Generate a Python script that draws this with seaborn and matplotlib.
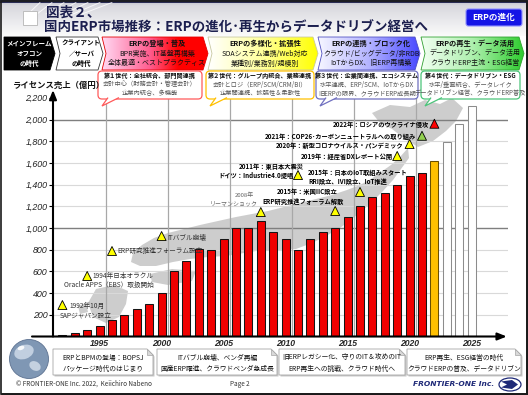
import numpy as np
import pandas as pd
import matplotlib
matplotlib.use("Agg")
import matplotlib.pyplot as plt
import seaborn as sns
from matplotlib.patches import Polygon, FancyBboxPatch, Rectangle, Circle, Ellipse
from matplotlib.colors import LinearSegmentedColormap

# ---------------- data ----------------
years = list(range(1992, 2026))
sales = [10, 30, 60, 100, 150, 200, 250, 300, 400, 600, 700, 810, 800, 900,
         1000, 1000, 1065, 960, 900, 800, 900, 960, 1000, 1100, 1200, 1290,
         1320, 1400, 1480, 1510, 1620, 1790, 1960, 2125]
bar_kind = ["実績"] * 30 + ["見込"] + ["予測"] * 3

ytick_values = [200, 400, 600, 800, 1000, 1200, 1400, 1600, 1800, 2000, 2200]
ytick_labels = ["200", "400", "600", "800", "1,000", "1,200", "1,400",
                "1,600", "1,800", "2,000", "2,200"]
xtick_years = [1995, 2000, 2005, 2010, 2015, 2020, 2025]
xtick_labels = ["1995", "2000", "2005", "2010", "2015", "2020", "2025"]
y_label = "ライセンス売上（億円）"

event_years = [1992, 1994, 1996, 2000, 2008, 2011, 2014, 2016, 2019, 2020, 2021, 2022]
event_levels = [290, 558, 788, 926, 1147, 1488, 1157, 1332, 1664, 1774, 1850, 1961]
event_kind = ["注目"] * 10 + ["環境", "戦争"]
event_texts = [
    ["1992年10月", "SAPジャパン設立"],
    ["1994年日本オラクル", "Oracle APPS（EBS）取扱開始"],
    ["ERP研究推進フォーラム設立"],
    ["ITバブル崩壊"],
    ["2008年", "リーマンショック"],
    ["2011年：東日本大震災", "ドイツ：Industrie4.0提唱"],
    ["2015年：米国IIC設立", "ERP研究推進フォーラム解散"],
    ["2015年：日本のIoT取組みスタート", "RRI設立、IVI設立、IoT推進"],
    ["2019年：経産省DXレポート公開"],
    ["2020年：新型コロナウイルス・パンデミック"],
    ["2021年：COP26･カーボンニュートラルへの取り組み"],
    ["2022年：ロシアのウクライナ侵攻"],
]

title_1 = "図表２、"
title_2 = "国内ERP市場推移：ERPの進化･再生からデータドリブン経営へ"
badge_text = "ERPの進化"
era_texts = [
    ["メインフレーム", "オフコン", "の時代"],
    ["クライアント", "／サーバ", "の時代"],
    ["ERPの登場・普及", "BPR実施、IT基盤再構築", "全体最適・ベストプラクティス"],
    ["ERPの多様化・拡張性", "SOAシステム連携/Web対応", "業種別/業務別/規模別"],
    ["ERPの連携・ブロック化", "クラウド/ビッグデータ/非RDB", "IoTからDX、旧ERP再構築"],
    ["ERPの再生・データ活用", "データドリブン、データ活用", "クラウドERP主流・ESG経営"],
]
gen_texts = [
    ["第１世代：全社統合、部門間連携", "会計中心（財務会計・管理会計）", "企業内統合、多機能"],
    ["第２世代：グループ内統合、業務連携", "会計とロジ（ERP/SCM/CRM/BI）", "企業間連携、拡張性＆柔軟性"],
    ["第３世代：企業間連携、エコシステム", "水平連携、ERP/SCM、IoTからDX", "旧ERPの限界、クラウドERP成長期"],
    ["第４世代：データドリブン・ESG", "水平/垂直統合、データレイク", "データドリブン経営、クラウドERP普及"],
]
period_texts = [
    ["ERPとBPMの登場：BOPSJ", "パッケージ時代のはじまり"],
    ["ITバブル崩壊、ベンダ再編", "国産ERP躍進、クラウドベンダ急成長"],
    ["旧ERPレガシー化、守りのIT＆攻めのIT", "ERP再生への挑戦、クラウド時代へ"],
    ["ERP再生、ESG経営の時代", "クラウドERPの普及、データドリブン"],
]
footer_left = "© FRONTIER-ONE Inc. 2022,  Keiichiro Nabeno"
footer_page = "Page 2"
footer_brand = "FRONTIER-ONE Inc."

# ---------------- style ----------------
sns.set_theme(style="white")
plt.rcParams["font.family"] = ["Noto Sans CJK JP", "DejaVu Sans"]

W, H = 528, 395
fig = plt.figure(figsize=(W / 100, H / 100), dpi=100)
fig.patch.set_facecolor("white")


def pix_axes(z):
    a = fig.add_axes([0, 0, 1, 1])
    a.set_xlim(0, W)
    a.set_ylim(H, 0)
    a.axis("off")
    a.set_zorder(z)
    return a


bg = pix_axes(0)

# chart axes (pixel frame)
PX0, PX1, PY0, PY1 = 53, 508, 72, 336.5
X_PER_YEAR, X_1992 = 12.4, 62.4
Y_PER_UNIT = 0.1085
ax = fig.add_axes([PX0 / W, 1 - PY1 / H, (PX1 - PX0) / W, (PY1 - PY0) / H])
ax.set_zorder(1)
ax.patch.set_alpha(0)
ov = pix_axes(2)

xlo = 1992 + (PX0 - X_1992) / X_PER_YEAR
xhi = 1992 + (PX1 - X_1992) / X_PER_YEAR
ytop = (PY1 - PY0) / Y_PER_UNIT

# ---- background map silhouette (decorative) ----
map_col = "#cdcdcd"
shapes = [
    [(372, 113), (390, 105), (410, 107), (425, 100), (440, 104), (452, 98), (463, 108),
     (456, 121), (446, 131), (433, 141), (418, 147), (405, 139), (392, 129), (380, 123)],
    [(408, 148), (400, 157), (391, 165), (381, 172), (371, 179), (360, 185), (347, 190),
     (332, 195), (316, 199), (300, 203), (284, 207), (268, 211), (252, 214), (236, 217),
     (218, 221), (200, 225), (184, 229), (168, 233), (154, 238), (142, 245), (133, 253),
     (131, 262), (140, 266), (156, 266), (173, 262), (190, 259), (208, 257), (226, 256),
     (244, 253), (262, 250), (280, 250), (296, 249), (312, 243), (326, 236), (340, 228),
     (352, 219), (363, 210), (373, 201), (383, 191), (393, 180), (401, 169), (409, 158)],
    [(150, 274), (172, 269), (196, 271), (192, 281), (168, 285), (152, 282)],
    [(96, 289), (114, 285), (128, 291), (126, 304), (119, 317), (106, 323), (93, 317), (88, 303)],
    [(78, 306), (86, 303), (88, 312), (80, 314)],
]
for s in shapes:
    bg.add_patch(Polygon(s, closed=True, facecolor=map_col, edgecolor="none"))

# ---- grid ----
for v in ytick_values:
    if v <= 2000:
        major = v in (1000, 2000)
        ax.axhline(v, color="#7f7f7f" if major else "#d9d9d9",
                   lw=1.0 if major else 0.8, zorder=0.5)
for yv in range(1995, 2021, 5):
    ax.axvline(yv + 0.5, color="#a8a8a8", lw=0.9, zorder=0.6)

# ---- bars ----
df = pd.DataFrame({"year": years, "sales": sales, "kind": bar_kind})
bar_fill = {"実績": "#f00000", "見込": "#ffc000", "予測": "#ffffff"}
bar_edge = {"実績": "#151515", "見込": "#6b5000", "予測": "#8c8c8c"}
for k in ["実績", "見込", "予測"]:
    sub = df[df["kind"] == k]
    sns.barplot(data=sub, x="year", y="sales", native_scale=True, width=0.66,
                color=bar_fill[k], edgecolor=bar_edge[k], linewidth=0.75,
                saturation=1, errorbar=None, ax=ax, zorder=3)

# ---- event markers ----
ev_df = pd.DataFrame({"year": event_years, "level": event_levels, "kind": event_kind})
sns.scatterplot(data=ev_df, x="year", y="level", hue="kind",
                palette={"注目": "#ffff00", "環境": "#92d050", "戦争": "#ff0000"},
                marker="^", s=42, edgecolor="black", linewidth=0.6,
                legend=False, ax=ax, zorder=6)

# text layout for events: (dx px, dy px downward, ha)
ev_layout = [
    [(7, 0.5, "left"), (-3, 10, "left")],
    [(5, 0, "left"), (-23, 9, "left")],
    [(5, -0.5, "left")],
    [(6, 0.5, "left")],
    [(-16, -17, "center"), (-27, -7.5, "center")],
    [(6, -9, "right"), (-4, 0, "right")],
    [(-28, -19, "center"), (-32, -9.5, "center")],
    [(-52, -19, "left"), (-52, -10, "left")],
    [(-4, 0.5, "right")],
    [(-6, 1.5, "right")],
    [(-6, 1, "right")],
    [(-5, 0.5, "right")],
]
ev_style = ["plain"] * 4 + ["gray"] + ["bold"] * 7
for yr, lv, lines, lay, st in zip(event_years, event_levels, event_texts, ev_layout, ev_style):
    for txt, (dx, dy, ha) in zip(lines, lay):
        kw = dict(fontsize=4.8, color="#333333", fontweight="normal")
        if st == "gray":
            kw = dict(fontsize=4.3, color="#666666", fontweight="normal")
        elif st == "bold":
            kw = dict(fontsize=4.5, color="black", fontweight="bold")
        ax.annotate(txt, xy=(yr, lv), xytext=(dx, -dy), textcoords="offset pixels",
                    ha=ha, va="center", zorder=7, annotation_clip=False, **kw)

# ---- axes ----
ax.set_xlim(xlo, xhi)
ax.set_ylim(0, ytop)
for sp in ax.spines.values():
    sp.set_visible(False)
ax.set_xlabel("")
ax.set_ylabel("")
ax.set_yticks(ytick_values)
ax.set_yticklabels(ytick_labels)
ax.set_xticks(xtick_years)
ax.set_xticklabels(xtick_labels)
ax.tick_params(axis="y", direction="out", length=3, width=0.8, pad=1, labelsize=6.4,
               left=True, colors="black")
ax.tick_params(axis="x", length=0, pad=1.5, labelsize=6.2)
for t in ax.get_yticklabels():
    t.set_fontstyle("italic")
    t.set_family(["Liberation Sans", "DejaVu Sans"])
    t.set_color("#222222")
for t in ax.get_xticklabels():
    t.set_fontstyle("italic")
    t.set_fontweight("bold")
    t.set_family(["Liberation Sans", "DejaVu Sans"])
ax.grid(False)

arrow = dict(arrowstyle="-|>,head_width=0.18,head_length=0.45", color="black",
             lw=1.5, shrinkA=0, shrinkB=0)
ax.annotate("", xy=(xlo, 2272), xytext=(xlo, 0), arrowprops=arrow, annotation_clip=False, zorder=8)
ax.annotate("", xy=(xhi - 0.1, 0), xytext=(xlo - 21 / X_PER_YEAR, 0), arrowprops=arrow,
            annotation_clip=False, zorder=8)

# ---------------- overlay: header, callouts, footer ----------------
def grad_poly(a, pts, stops, edge, lw=0.6, z=2, vertical=False):
    poly = Polygon(pts, closed=True, facecolor="none", edgecolor=edge, lw=lw, zorder=z + 1)
    a.add_patch(poly)
    xs = [p[0] for p in pts]
    ys = [p[1] for p in pts]
    cmap = LinearSegmentedColormap.from_list("g", stops)
    g = np.linspace(0, 1, 256)
    arr = g.reshape(-1, 1) if vertical else g.reshape(1, -1)
    im = a.imshow(arr, cmap=cmap, extent=[min(xs), max(xs), max(ys), min(ys)],
                  aspect="auto", zorder=z, interpolation="bilinear")
    im.set_clip_path(poly)


# header band
grad_poly(ov, [(0, 0), (W, 0), (W, 36), (0, 36)],
          [(0, "#b9bac6"), (0.15, "#d8d8de"), (1, "#fbfbfb")], "none", lw=0, z=1, vertical=True)
ov.add_patch(Rectangle((0, 0), W, 2.5, facecolor="#2a2d55", edgecolor="none", zorder=2))
for i in range(7):
    ov.plot([28 + i * 9, 40 + i * 12], [14, 2.5], color="white", lw=0.7, alpha=0.8, zorder=2)
ov.add_patch(Rectangle((23, 11), 14, 14, facecolor="white", edgecolor="#b5b5b5", lw=0.6, zorder=3))
ov.text(46, 12.5, title_1, fontsize=9.8, fontweight="bold", color="#1c1f4f", va="center", ha="left", zorder=4)
ov.text(44, 27.5, title_2, fontsize=9.7, fontweight="bold", color="#1c1f4f", va="center", ha="left", zorder=4)
ov.add_patch(FancyBboxPatch((466, 9), 56, 17, boxstyle="round,pad=0,rounding_size=2.5",
                            facecolor="#1414e6", edgecolor="#9090ff", lw=0.8, zorder=3))
ov.text(494, 17.5, badge_text, fontsize=6.2, fontweight="bold", color="white", ha="center", va="center", zorder=4)

# chevrons
CY0, CY1 = 37, 70
CM = (CY0 + CY1) / 2
chev = [
    (4, 50, 0, ["#000000", "#000000"], "#000000", "white"),
    (56, 98, 4, ["#ffffff", "#ffffff"], "#333333", "black"),
    (102, 203, 4, [(0, "#ffd9f3"), (0.45, "#ff5d8f"), (0.72, "#ff0000"), (1, "#ff0000")], "#e00000", "#111111"),
    (208, 313, 4, [(0, "#ffffff"), (0.5, "#ffff9a"), (1, "#ffff00")], "#c8c8a0", "#111111"),
    (318, 415, 4, [(0, "#f6f6ff"), (0.5, "#b4b4ff"), (1, "#4848ff")], "#5050c0", "#111111"),
    (421, 519, 4, [(0, "#f2fff2"), (0.5, "#aef0ae"), (1, "#2ecc2e")], "#30a030", "#111111"),
]
for (x0, x1, notch, stops, edge, tcol), lines in zip(chev, era_texts):
    pts = [(x0, CY0), (x1, CY0), (x1 + 5, CM), (x1, CY1), (x0, CY1)]
    if notch:
        pts.append((x0 + notch, CM))
    grad_poly(ov, pts, stops, edge, lw=0.6, z=2)
    cx = (x0 + x1 + 5 + notch) / 2
    small = x0 < 100
    for j, txt in enumerate(lines):
        bold = (j == 0) or small
        fs = 4.7 if small else (5.2 if j == 0 else 5.0)
        ov.text(cx, 43.5 + j * 10, txt, fontsize=fs, ha="center", va="center", color=tcol,
                fontweight="bold" if bold else "normal", zorder=4)

# generation callouts
gens = [(98, 202, "#ff5a5a"), (206, 314, "#ffc000"), (316, 418, "#7070c0"), (421, 520, "#4cc47a")]
for (x0, x1, col), lines in zip(gens, gen_texts):
    ov.add_patch(FancyBboxPatch((x0, 71), x1 - x0, 28, boxstyle="round,pad=0,rounding_size=4",
                                facecolor="white", edgecolor=col, lw=0.9, zorder=3))
    ov.add_patch(Polygon([(x0 + 10, 97.6), (x0 + 4, 106), (x0 + 21, 97.6)], closed=False,
                         facecolor="white", edgecolor=col, lw=0.9, zorder=3.5))
    cx = (x0 + x1) / 2
    ov.text(cx, 75.5, lines[0], fontsize=4.4, fontweight="bold", color="#111111", ha="center", va="center", zorder=4)
    ov.text(cx, 84.5, lines[1], fontsize=4.5, color="#555555", ha="center", va="center", zorder=4)
    ov.text(cx, 93.2, lines[2], fontsize=4.5, color="#555555", ha="center", va="center", zorder=4)

ov.text(13, 85.5, y_label, fontsize=6, fontweight="bold", color="#111111", ha="left", va="center", zorder=4)

# globe icon
ov.add_patch(Circle((29, 359), 19.5, facecolor="#7f97b4", edgecolor="#5d7291", lw=0.6, zorder=3))
ov.add_patch(Ellipse((24, 352), 20, 14, angle=-20, facecolor="#c9d6e6", edgecolor="none", alpha=0.9, zorder=3.2))
ov.add_patch(Ellipse((35, 366), 12, 9, angle=30, facecolor="#d6e0ec", edgecolor="none", alpha=0.8, zorder=3.2))
ov.add_patch(Ellipse((21, 348), 7, 4, angle=-20, facecolor="white", edgecolor="none", alpha=0.9, zorder=3.3))

# period boxes
periods = [(53, 153), (157, 277), (279, 405), (407, 521)]
BY0, BY1 = 349, 375
for (x0, x1), lines in zip(periods, period_texts):
    shp = [(x0, BY0), (x1 - 6, BY0), (x1, BY0 + 6), (x1, BY1), (x0, BY1)]
    ov.add_patch(Polygon([(x + 1.5, y + 1.5) for x, y in shp], closed=True, facecolor="#c8c8c8",
                         edgecolor="none", zorder=2.8))
    ov.add_patch(Polygon(shp, closed=True, facecolor="white", edgecolor="#a6a6a6", lw=0.6, zorder=3))
    ov.add_patch(Polygon([(x1 - 6, BY0), (x1 - 6, BY0 + 6), (x1, BY0 + 6)], closed=True,
                         facecolor="#d9d9d9", edgecolor="#a6a6a6", lw=0.5, zorder=3.1))
    cx = (x0 + x1) / 2
    ov.text(cx, 357.5, lines[0], fontsize=4.9, color="#111111", ha="center", va="center", zorder=4)
    ov.text(cx, 368.5, lines[1], fontsize=4.9, color="#111111", ha="center", va="center", zorder=4)

# footer
ov.text(16, 384, footer_left, fontsize=4.6, color="#333333", ha="left", va="center", zorder=4)
ov.text(230, 384, footer_page, fontsize=4.6, color="#333333", ha="left", va="center", zorder=4)
ov.text(494, 384, footer_brand, fontsize=5.4, fontweight="bold", fontstyle="italic",
        color="#1f2a78", ha="right", va="center", family=["DejaVu Sans"], zorder=4)
ov.add_patch(Ellipse((510, 384.5), 22, 13, facecolor="white", edgecolor="#1f2a78", lw=0.9, zorder=3))
ov.add_patch(Polygon([(501, 381.5), (512, 380), (518, 384.5), (512, 389), (501, 387.5), (507, 384.5)],
                     closed=True, facecolor="#1f2a78", edgecolor="none", zorder=3.2))

# slide frame
ov.add_patch(Rectangle((0.7, 0.7), W - 1.6, H - 1.6, facecolor="none", edgecolor="#1a1a1a", lw=1.2, zorder=5))
ov.plot([W - 1, W - 1], [2, H - 1], color="#1a1a1a", lw=2, zorder=5)
ov.plot([2, W - 1], [H - 1, H - 1], color="#1a1a1a", lw=2, zorder=5)

ov.set_xlim(0, W)
ov.set_ylim(H, 0)
bg.set_xlim(0, W)
bg.set_ylim(H, 0)

fig.savefig("out.png", dpi=100)
